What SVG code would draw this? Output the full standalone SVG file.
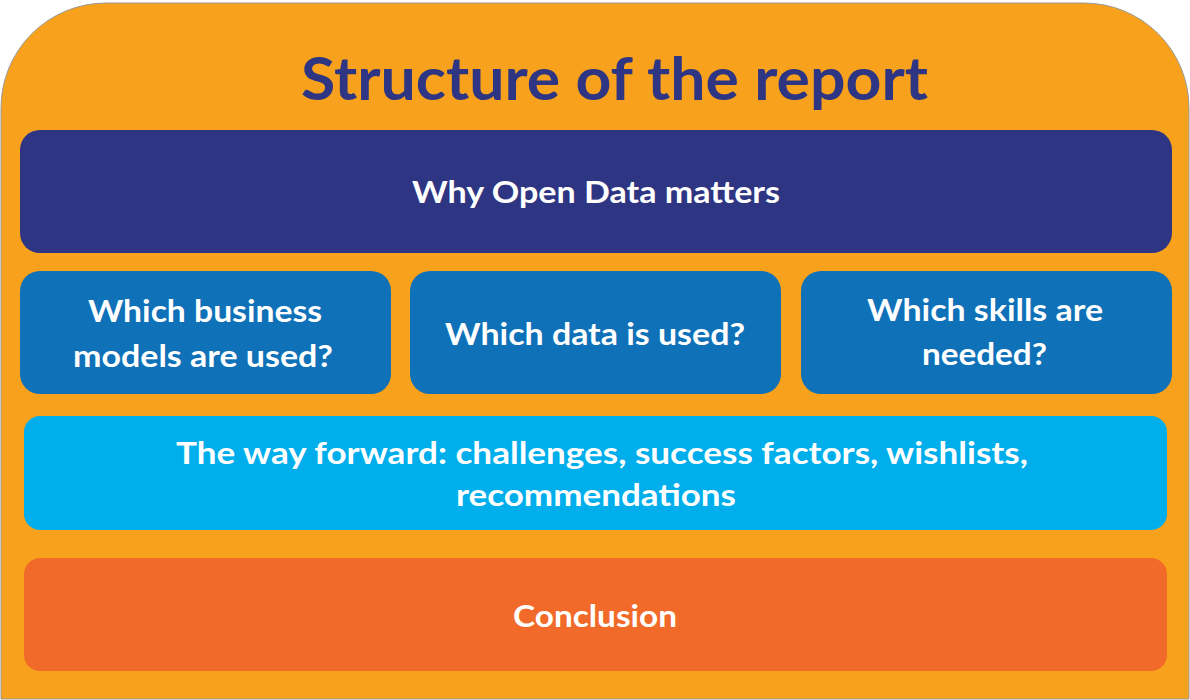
<svg xmlns="http://www.w3.org/2000/svg" width="1190" height="700" viewBox="0 0 1190 700">
  <style>
    .t { font-family: Lato, "Open Sans", "Liberation Sans", sans-serif; font-weight: bold; fill: #ffffff; font-size: 31px; text-anchor: middle; }
    .title { font-family: Lato, "Open Sans", "Liberation Sans", sans-serif; font-weight: bold; fill: #2E3582; font-size: 60px; text-anchor: middle; }
  </style>
  <rect width="1190" height="700" fill="#ffffff"/>
  <g id="background">
    <path d="M1,108 A105,105 0 0 1 106,3 L1084,3 A105,105 0 0 1 1189,108 L1189,699 L1,699 Z" fill="#F7A11C" stroke="#9a9a9a" stroke-width="1"/>
    <text class="title" x="614.5" y="100" textLength="627" lengthAdjust="spacingAndGlyphs">Structure of the report</text>
  </g>
  <g id="why">
    <rect x="20" y="130" width="1152" height="123" rx="20" fill="#2E3582"/>
    <text class="t" x="596" y="203" textLength="368" lengthAdjust="spacingAndGlyphs">Why Open Data matters</text>
  </g>
  <g id="business">
    <rect x="20" y="271" width="371" height="123" rx="20" fill="#0F71B8"/>
    <text class="t" x="205" y="322" textLength="234" lengthAdjust="spacingAndGlyphs">Which business</text>
    <text class="t" x="203" y="367" textLength="260" lengthAdjust="spacingAndGlyphs">models are used?</text>
  </g>
  <g id="data">
    <rect x="410" y="271" width="371" height="123" rx="20" fill="#0F71B8"/>
    <text class="t" x="595" y="345" textLength="300" lengthAdjust="spacingAndGlyphs">Which data is used?</text>
  </g>
  <g id="skills">
    <rect x="801" y="271" width="371" height="123" rx="20" fill="#0F71B8"/>
    <text class="t" x="985" y="321" textLength="236" lengthAdjust="spacingAndGlyphs">Which skills are</text>
    <text class="t" x="984.5" y="365" textLength="125" lengthAdjust="spacingAndGlyphs">needed?</text>
  </g>
  <g id="wayforward">
    <rect x="24" y="416" width="1143" height="114" rx="16" fill="#00AEEC"/>
    <text class="t" x="602" y="464" textLength="852" lengthAdjust="spacingAndGlyphs">The way forward: challenges, success factors, wishlists,</text>
    <text class="t" x="596" y="506" textLength="280" lengthAdjust="spacingAndGlyphs">recommendations</text>
  </g>
  <g id="conclusion">
    <rect x="24" y="558" width="1143" height="113" rx="16" fill="#F26A2A"/>
    <text class="t" x="595" y="627" textLength="164" lengthAdjust="spacingAndGlyphs">Conclusion</text>
  </g>
  <g id="connectors"></g>
</svg>
